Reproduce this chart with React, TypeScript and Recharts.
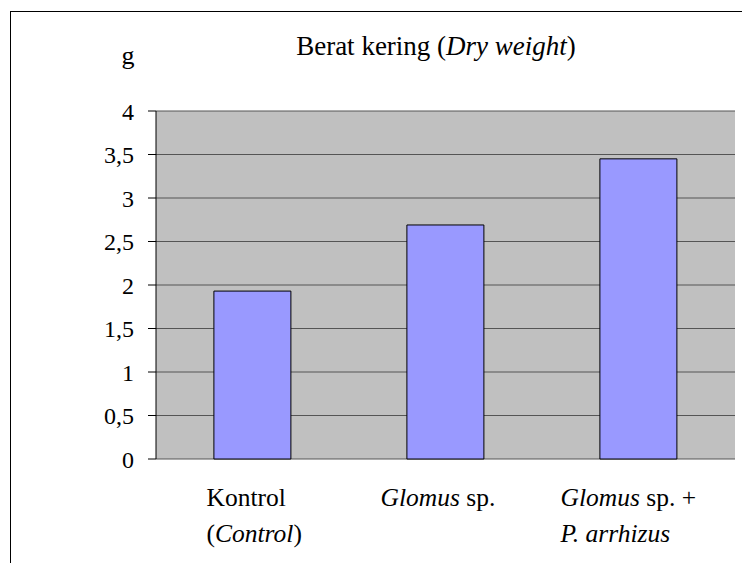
import React from 'react';
import { BarChart, Bar, XAxis, YAxis, CartesianGrid } from 'recharts';

const categories = ['Kontrol', 'Glomus sp.', 'Glomus sp. + P. arrhizus'];
const dryWeight = [1.93, 2.69, 3.45];
const yTicks = [0, 0.5, 1, 1.5, 2, 2.5, 3, 3.5, 4];
const boundaryTicks = [0, 1, 2, 3];
// each label: lines of [text, italic]
const labelLines: [string, boolean][][][] = [
  [[['Kontrol', false]], [['(', false], ['Control', true], [')', false]]],
  [[['Glomus', true], [' sp.', false]]],
  [[['Glomus', true], [' sp. +', false]], [['P. arrhizus', true]]],
];
const titleParts: [string, boolean][] = [['Berat kering (', false], ['Dry weight', true], [')', false]];
const unitLabel = 'g';

const data = categories.map((c, i) => ({ name: c, value: dryWeight[i], idx: i }));

const FONT = '"Liberation Serif", "Times New Roman", serif';
const labelOffsets = [-46, -65, -78];

const XTick = (props: any) => {
  const { x, y, index } = props;
  const lines = labelLines[index] || [];
  return (
    <g>
      {lines.map((line, li) => (
        <text key={li} x={x + labelOffsets[index]} y={y + 39 + li * 36} textAnchor="start" fontFamily={FONT} fontSize={25.5} fill="#000">
          {line.map(([t, it], k) => (
            <tspan key={k} fontStyle={it ? 'italic' : 'normal'}>{t}</tspan>
          ))}
        </text>
      ))}
    </g>
  );
};

export default function App() {
  return (
    <div style={{ position: 'absolute', left: 0, top: 0, width: 742, height: 563, overflow: 'hidden', background: '#fff' }}>
      <div style={{ position: 'absolute', left: 10, top: 11, width: 760, height: 600, border: '1px solid #000', boxSizing: 'border-box' }} />
      <div style={{ position: 'absolute', left: 0, top: 0 }}>
        <BarChart width={742} height={563} data={data} margin={{ top: 111, right: 7, left: 96, bottom: 24 }} barCategoryGap="30%">
          <CartesianGrid vertical={false} fill="#C0C0C0" stroke="#555" strokeOpacity={1} />
          <XAxis xAxisId="b" type="number" domain={[0, 3]} ticks={boundaryTicks} height={0} tickSize={7} tickFormatter={() => ''} axisLine={{ stroke: '#000' }} tickLine={{ stroke: '#000' }} />
          <XAxis dataKey="name" height={80} axisLine={false} tickLine={false} tick={<XTick />} interval={0} />
          <XAxis xAxisId="t" orientation="top" type="number" domain={[0, 1]} height={0} tick={false} tickLine={false} axisLine={{ stroke: '#999' }} />
          <YAxis domain={[0, 4]} ticks={yTicks} width={60} tickSize={8} tickMargin={14} interval={0}
            tickFormatter={(v: number) => String(v).replace('.', ',')}
            tick={{ fontFamily: FONT, fontSize: 24, fill: '#000' }}
            axisLine={{ stroke: '#000' }} tickLine={{ stroke: '#000' }} />
          <YAxis yAxisId="r" orientation="right" type="number" domain={[0, 4]} width={0} tick={false} tickLine={false} axisLine={{ stroke: '#999' }} />
          <Bar dataKey="value" fill="#9999FF" stroke="#000" strokeWidth={1} isAnimationActive={false} />
        </BarChart>
      </div>
      <div style={{ position: 'absolute', left: 0, width: 872, top: 31, textAlign: 'center', fontFamily: FONT, fontSize: 27, lineHeight: '30px', whiteSpace: 'nowrap', color: '#000' }}>
        {titleParts.map(([t, it], i) => (
          <span key={i} style={{ fontStyle: it ? 'italic' : 'normal' }}>{t}</span>
        ))}
      </div>
      <div style={{ position: 'absolute', left: 108, width: 40, top: 41, textAlign: 'center', fontFamily: FONT, fontSize: 26, lineHeight: '30px', color: '#000' }}>
        {unitLabel}
      </div>
    </div>
  );
}
